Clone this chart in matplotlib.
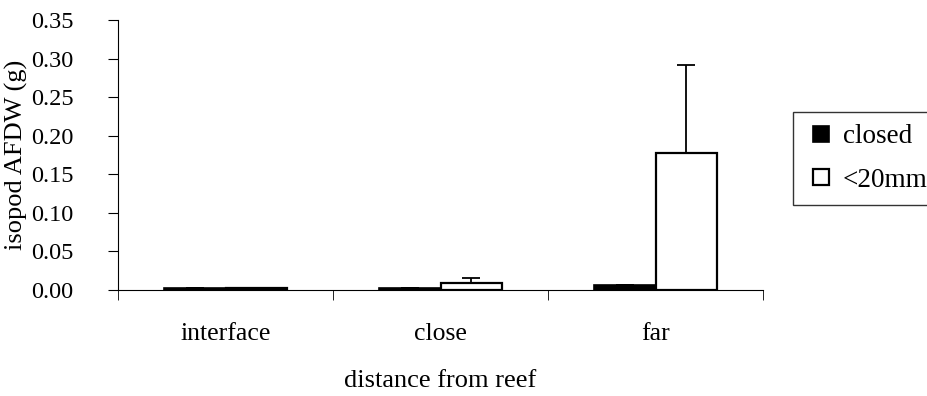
import numpy as np
import matplotlib.pyplot as plt
from matplotlib.lines import Line2D

plt.rcParams['font.family'] = ['Liberation Serif', 'DejaVu Serif']

categories = ["interface", "close", "far"]
closed_vals = [0.002, 0.002, 0.007]
closed_err = [0.0, 0.0, 0.0]
small_vals = [0.002, 0.009, 0.178]
small_err = [0.0, 0.0066, 0.114]
yticks = [0.00, 0.05, 0.10, 0.15, 0.20, 0.25, 0.30, 0.35]
series_names = ["closed", "<20mm"]

x = np.arange(len(categories))
w = 0.285

fig = plt.figure(figsize=(9.28, 3.96), dpi=100)
ax = fig.add_axes([0.1272, 0.2677, 0.695, 0.682])

ekw = dict(ecolor="black", capsize=6.5, elinewidth=1.3, capthick=1.3)
ax.bar(x - w / 2, closed_vals, w, color="black", edgecolor="black",
       linewidth=1.2, yerr=[np.zeros(3), closed_err], error_kw=ekw)
ax.bar(x + w / 2, small_vals, w, color="white", edgecolor="black",
       linewidth=1.6, yerr=[np.zeros(3), small_err], error_kw=ekw)

ax.set_xlim(-0.5, 2.5)
ax.set_ylim(0, 0.35)
ax.set_yticks(yticks)
ax.set_yticklabels([f"{v:.2f}" for v in yticks], fontsize=17.5)
ax.set_xticks(x)
ax.set_xticklabels(categories, fontsize=18.5)
ax.set_xticks([-0.5, 0.5, 1.5, 2.5], minor=True)
ax.tick_params(axis="x", which="major", length=0, pad=24)
ax.tick_params(axis="x", which="minor", length=7, direction="out")
ax.tick_params(axis="y", length=7, direction="out", pad=25)

ax.spines["top"].set_visible(False)
ax.spines["right"].set_visible(False)

ax.set_ylabel("isopod AFDW (g)", fontsize=19)
ax.yaxis.set_label_coords(-0.139, 0.5)
ax.set_xlabel("distance from reef", fontsize=19, labelpad=18)

handles = [
    Line2D([], [], linestyle="none", marker="s", markersize=12,
           markerfacecolor="black", markeredgecolor="black", markeredgewidth=1.2),
    Line2D([], [], linestyle="none", marker="s", markersize=12,
           markerfacecolor="white", markeredgecolor="black", markeredgewidth=1.6),
]
leg = fig.legend(handles, series_names, loc="upper left",
                 bbox_to_anchor=(793 / 928, 1 - 112 / 396),
                 fontsize=19.5, frameon=True, fancybox=False, edgecolor="black",
                 handlelength=1.2, handletextpad=0.2,
                 labelspacing=0.68, borderpad=0.45, borderaxespad=0)
leg.get_frame().set_linewidth(1.0)

fig.savefig("out.png", dpi=100)
